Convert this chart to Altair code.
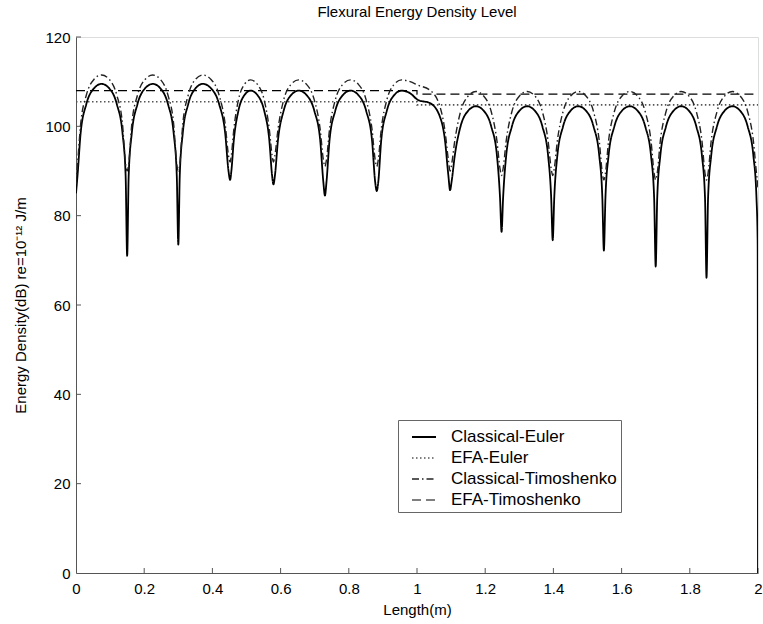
import altair as alt
import pandas as pd

SERIES = ["Classical-Euler", "EFA-Euler", "Classical-Timoshenko", "EFA-Timoshenko"]

# Classical-Euler (solid)
CE_x = [0.0, 0.0045, 0.0135, 0.03, 0.0525, 0.075,
        0.0975, 0.12, 0.1365, 0.1455, 0.15,
        0.1545, 0.1635, 0.18, 0.2025, 0.225,
        0.2475, 0.27, 0.2865, 0.2955, 0.30,
        0.3043, 0.313, 0.3288, 0.3504, 0.372,
        0.396, 0.42, 0.4376, 0.4472, 0.452,
        0.4556, 0.4628, 0.476, 0.494, 0.512,
        0.5321, 0.5522, 0.5669, 0.575, 0.579,
        0.5834, 0.5923, 0.6086, 0.6308, 0.653,
        0.6761, 0.6992, 0.7161, 0.7254, 0.73,
        0.7345, 0.7435, 0.76, 0.7825, 0.805,
        0.8281, 0.8512, 0.8681, 0.8774, 0.882,
        0.8864, 0.8951, 0.9112, 0.9331, 0.955,
        0.98, 1.003, 1.038, 1.067, 1.082, 1.092, 1.097,
        1.1016, 1.1107, 1.1274, 1.1502, 1.173,
        1.1955, 1.218, 1.2345, 1.2435, 1.248,
        1.2525, 1.2615, 1.278, 1.3005, 1.323,
        1.3455, 1.368, 1.3845, 1.3935, 1.398,
        1.4025, 1.4115, 1.428, 1.4505, 1.473,
        1.4955, 1.518, 1.5345, 1.5435, 1.548,
        1.5526, 1.5617, 1.5784, 1.6012, 1.624,
        1.6468, 1.6696, 1.6863, 1.6954, 1.70,
        1.7045, 1.7135, 1.73, 1.7525, 1.775,
        1.7972, 1.8194, 1.8357, 1.8446, 1.849,
        1.8536, 1.8627, 1.8794, 1.9022, 1.925,
        1.9475, 1.97, 1.9865, 1.9955, 1.999, 2.0]
CE_y = [85, 89, 98.4, 104.9, 108.5, 109.5,
        108.5, 104.9, 98.4, 89, 71,
        89, 98.4, 104.9, 108.5, 109.5,
        108.5, 104.9, 98.4, 89, 73.5,
        89, 98.4, 104.9, 108.5, 109.5,
        108.5, 104.9, 98.4, 90, 88,
        90, 96.9, 103.4, 107, 108,
        107, 103.4, 96.9, 89, 87,
        89, 96.9, 103.4, 107, 108,
        107, 103.4, 96.9, 87.5, 84.5,
        87.5, 96.9, 103.4, 107, 108,
        107, 103.4, 96.9, 87.5, 85.5,
        87.5, 96.9, 103.4, 107, 108,
        107.4, 105.9, 105.2, 102.2, 96.9, 89, 85.7,
        87.7, 93.4, 99.9, 103.5, 104.5,
        103.5, 99.9, 93.4, 84, 76.4,
        84, 93.4, 99.9, 103.5, 104.5,
        103.5, 99.9, 93.4, 84, 74.5,
        84, 93.4, 99.9, 103.5, 104.5,
        103.5, 99.9, 93.4, 84, 72.2,
        84, 93.4, 99.9, 103.5, 104.5,
        103.5, 99.9, 93.4, 84, 68.6,
        84, 93.4, 99.9, 103.5, 104.5,
        103.5, 99.9, 93.4, 84, 66.1,
        84, 93.4, 99.9, 103.5, 104.5,
        103.5, 99.9, 93.4, 84, 74, 0]

# Classical-Timoshenko (dash-dot), same x stations
CT_x = CE_x
CT_y = [87, 91.5, 100.4, 106.9, 110.5, 111.5,
        110.5, 106.9, 100.4, 91.5, 90,
        91.5, 100.4, 106.9, 110.5, 111.5,
        110.5, 106.9, 100.4, 91.5, 90,
        91.5, 100.4, 106.9, 110.5, 111.5,
        110.5, 106.9, 100.4, 93.5, 92,
        93.5, 99.3, 105.8, 109.4, 110.4,
        109.4, 105.8, 99.3, 93.5, 92,
        93.5, 99.3, 105.8, 109.4, 110.4,
        109.4, 105.8, 99.3, 92.5, 91,
        92.5, 99.3, 105.8, 109.4, 110.4,
        109.4, 105.8, 99.3, 92.5, 91,
        92.5, 99.3, 105.8, 109.4, 110.4,
        110.0, 109.2, 108.1, 104.5, 99.0, 92.5, 90,
        91.5, 96.7, 103.2, 106.8, 107.8,
        106.8, 103.2, 96.7, 90.5, 89,
        90.5, 96.7, 103.2, 106.8, 107.8,
        106.8, 103.2, 96.7, 90.5, 89,
        90.5, 96.7, 103.2, 106.8, 107.8,
        106.8, 103.2, 96.7, 89.5, 88,
        89.5, 96.7, 103.2, 106.8, 107.8,
        106.8, 103.2, 96.7, 89.5, 88,
        89.5, 96.7, 103.2, 106.8, 107.8,
        106.8, 103.2, 96.7, 89.5, 88,
        89.5, 96.7, 103.2, 106.8, 107.8,
        106.8, 103.2, 96.7, 89.5, 87, 86]

# EFA levels
EE_x = [0.0, 1.0, 1.0, 2.0]
EE_y = [105.5, 105.5, 104.8, 104.8]
ET_x = [0.0, 1.0, 1.0, 2.0]
ET_y = [108.0, 108.0, 107.2, 107.2]

X_TICKS = [0, 0.2, 0.4, 0.6, 0.8, 1.0, 1.2, 1.4, 1.6, 1.8, 2.0]
Y_TICKS = [0, 20, 40, 60, 80, 100, 120]

FONT = "Liberation Sans"


def rows(name, xs, ys):
    return [{"x": a, "y": b, "series": name, "i": k} for k, (a, b) in enumerate(zip(xs, ys))]


classical = pd.DataFrame(rows("Classical-Euler", CE_x, CE_y) + rows("Classical-Timoshenko", CT_x, CT_y))
efa = pd.DataFrame(rows("EFA-Euler", EE_x, EE_y) + rows("EFA-Timoshenko", ET_x, ET_y))

xscale = alt.Scale(domain=[0, 2], nice=False, zero=False)
yscale = alt.Scale(domain=[0, 120], nice=False)
xaxis = alt.Axis(values=X_TICKS, format="~g", tickSize=0, labelPadding=8, labelFontSize=15,
                 labelFont=FONT, labelColor="#000", domainColor="#555", grid=False,
                 labelFlush=False, labelOverlap=False, title="Length(m)", titleFont=FONT,
                 titleFontSize=15, titleFontWeight="normal", titleColor="#000", titlePadding=6)
yaxis = alt.Axis(values=Y_TICKS, format="d", tickSize=0, labelPadding=6, labelFontSize=15,
                 labelFont=FONT, labelColor="#000", domainColor="#555", grid=False,
                 labelOverlap=False, title="Energy Density(dB) re=10⁻¹² J/m", titleFont=FONT,
                 titleFontSize=15, titleFontWeight="normal", titleColor="#000",
                 titleX=-48, titleY=268)

X = alt.X("x:Q", scale=xscale, axis=xaxis)
Y = alt.Y("y:Q", scale=yscale, axis=yaxis)

legend = alt.Legend(orient="none", legendX=322, legendY=383, title=None, symbolType="stroke",
                    symbolSize=576, labelFontSize=17, labelFont=FONT, labelColor="#000",
                    labelLimit=400, strokeColor="#666", fillColor="white", padding=4,
                    rowPadding=-4, labelOffset=14, symbolOffset=9)

color = alt.Color("series:N", scale=alt.Scale(domain=SERIES, range=["#000000", "#555555", "#222222", "#000000"]), legend=legend)
dash = alt.StrokeDash("series:N", scale=alt.Scale(domain=SERIES, range=[[1, 0], [1.5, 2.5], [7, 3, 1.5, 3], [9, 5]]), legend=legend)
width = alt.StrokeWidth("series:N", scale=alt.Scale(domain=SERIES, range=[1.8, 1.2, 1.3, 2.0]), legend=legend)

efa_layer = alt.Chart(efa).mark_line(clip=True).encode(
    x=X, y=Y, color=color, strokeDash=dash, strokeWidth=width, order="i:Q", detail="series:N")
classical_layer = alt.Chart(classical).mark_line(clip=True, interpolate="monotone").encode(
    x=X, y=Y, color=color, strokeDash=dash, strokeWidth=width, order="i:Q", detail="series:N")

xt = alt.Chart(pd.DataFrame({"x": X_TICKS[1:]})).mark_rule(color="#555", strokeWidth=1).encode(
    x=X, y=alt.value(536), y2=alt.value(531))
yt = alt.Chart(pd.DataFrame({"y": Y_TICKS[1:]})).mark_rule(color="#555", strokeWidth=1).encode(
    y=Y, x=alt.value(0), x2=alt.value(5))

chart = alt.layer(xt, yt, efa_layer, classical_layer).properties(
    width=682, height=536,
    title=alt.TitleParams("Flexural Energy Density Level", font=FONT, fontSize=15,
                          fontWeight="normal", color="#000", offset=10, anchor="middle"),
    autosize=alt.AutoSizeParams(type="none"),
    padding={"left": 76, "top": 37, "right": 5, "bottom": 51},
).configure_view(stroke=None).configure(background="white")

chart.save("out.html", embed_options={"renderer": "svg", "actions": False})
